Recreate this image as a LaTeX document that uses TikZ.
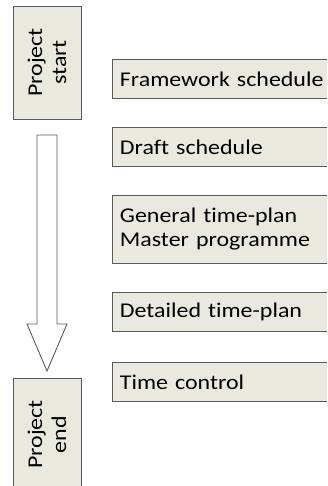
\documentclass[tikz,border=0pt]{standalone}
\usepackage{fontspec}
\setmainfont{Carlito}[FakeStretch=1.14, RawFeature=-liga]
\usetikzlibrary{positioning}
\definecolor{box-fill}{RGB}{233,233,224}
\definecolor{box-line}{RGB}{90,90,90}

\begin{document}
\begin{tikzpicture}[
  x=1pt, y=-1pt,
  every node/.style = {font=\fontsize{21}{24}\selectfont},
  % Box styles
  endbox/.style   = {draw=box-line, fill=box-fill, line width=0.9pt, rotate=90,
                     minimum width=113pt, minimum height=68pt, inner sep=0pt,
                     align=center},
  endtext/.style  = {rotate=90, inner sep=0pt, align=center},
  stagebox/.style = {draw=box-line, fill=box-fill, line width=0.9pt, anchor=north west,
                     minimum width=240pt, text width=224pt, inner xsep=8pt,
                     inner ysep=0pt, align=left},
  bigarrow/.style = {draw=box-line, fill=white, line width=0.9pt},
]
\useasboundingbox (0,0) rectangle (327,486);
\clip (0,0) rectangle (327,486);

% ── Project start / end ───────────────────────────────────────────────────────
\node[endbox] (start) at (47, 62.5) {Project\\start};
% end box runs off the bottom of the page
\node[endbox, minimum width=140pt] (finish) at (47, 448) {};
\node[endtext] (finish-text) at (47, 434.5) {Project\\end};

% ── Schedule levels ───────────────────────────────────────────────────────────
\node[stagebox, minimum height=39pt] (frame)    at (111.5, 59)  {Framework schedule};
\node[stagebox, minimum height=39pt] (draft)    at (111.5, 127) {Draft schedule};
\node[stagebox, minimum height=68pt] (general)  at (111.5, 195) {General time-plan\\Master programme};
\node[stagebox, minimum height=39pt] (detail)   at (111.5, 292) {Detailed time-plan};
\node[stagebox, minimum height=39pt] (control)  at (111.5, 362) {Time control};

% ── Arrow start → end ─────────────────────────────────────────────────────────
\coordinate (shaft-top) at (47, 135);
\coordinate (tip) at (47, 371);
\draw[bigarrow]
  ([xshift=-10pt]shaft-top) -- ([xshift=10pt]shaft-top)
  -- (57, 324) -- (67, 324) -- (tip) -- (27, 324) -- (37, 324) -- cycle;

\end{tikzpicture}
\end{document}
